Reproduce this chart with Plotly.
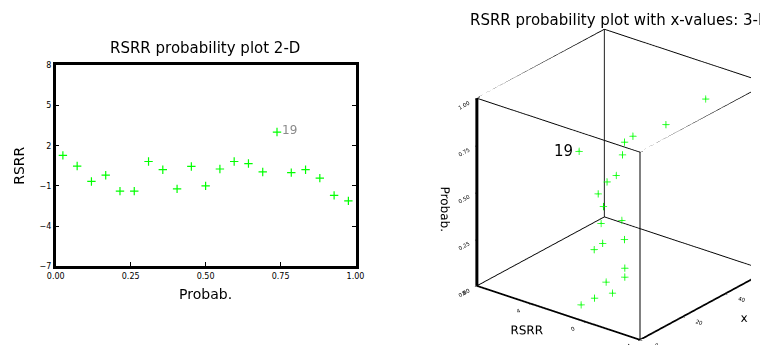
import plotly.graph_objects as go

# ---- data ----
probab = [(i - 0.5) / 21 for i in range(1, 22)]
rsrr = [1.28, 0.48, -0.67, -0.20, -1.39, -1.39, 0.82, 0.21, -1.22, 0.45, -1.00,
        0.26, 0.82, 0.67, 0.04, 3.02, -0.01, 0.21, -0.42, -1.71, -2.12]
xvals = [6.0, 7.2, 8.3, 8.3, 9.5, 9.5, 9.2, 9.3, 10.4, 10.1, 10.6,
         10.0, 11.1, 14.3, 14.6, 16.2, 17.2, 19.6, 19.5, 26.8, 42.9]
label_idx = 15
label_text = "19"

x2d_range = [0, 1]
y2d_range = [-7, 8]
x3_range = [0, 60]
r3_range = [-4, 8]
p3_range = [0, 1]

GREEN = "#00ff00"
FONT = "DejaVu Sans"

fig = go.Figure()

fig.add_trace(go.Scatter(
    x=probab, y=rsrr, mode="markers",
    marker=dict(symbol="cross-thin", size=6, line=dict(color=GREEN, width=1.2)),
    xaxis="x", yaxis="y", showlegend=False, hoverinfo="skip"))

# ---- 3D ----
X0, X1 = x3_range
Y0, Y1 = r3_range
Z0, Z1 = p3_range
thin_edges = [
    ((X0, Y1, Z1), (X1, Y1, Z1)), ((X0, Y0, Z1), (X1, Y0, Z1)), ((X0, Y1, Z0), (X1, Y1, Z0)),
    ((X1, Y0, Z0), (X1, Y1, Z0)), ((X0, Y0, Z1), (X0, Y1, Z1)), ((X1, Y0, Z1), (X1, Y1, Z1)),
    ((X0, Y0, Z0), (X0, Y0, Z1)), ((X1, Y0, Z0), (X1, Y0, Z1)), ((X1, Y1, Z0), (X1, Y1, Z1)),
]
for a, b in thin_edges:
    fig.add_trace(go.Scatter3d(x=[a[0], b[0]], y=[a[1], b[1]], z=[a[2], b[2]], mode="lines",
                               line=dict(color="black", width=1.8),
                               showlegend=False, hoverinfo="skip", scene="scene"))
# axis edges: RSRR (front-left) -> x (front-right) as one path, Probab. (left vertical) separately
fig.add_trace(go.Scatter3d(x=[X0, X0, X1], y=[Y1, Y0, Y0], z=[Z0, Z0, Z0],
                           mode="lines", line=dict(color="black", width=3.5),
                           showlegend=False, hoverinfo="skip", scene="scene"))
fig.add_trace(go.Scatter3d(x=[X0, X0], y=[Y1, Y1], z=[Z1, Z0],
                           mode="lines", line=dict(color="black", width=6),
                           showlegend=False, hoverinfo="skip", scene="scene"))

fig.add_trace(go.Scatter3d(
    x=xvals, y=rsrr, z=probab, mode="markers",
    marker=dict(symbol="cross", size=4, color=GREEN),
    showlegend=False, hoverinfo="skip", scene="scene"))

ax3 = dict(showbackground=False, showgrid=False, zeroline=False,
           showline=False, ticks="outside", tickcolor="black", ticklen=3,
           tickfont=dict(family=FONT, size=8, color="black"),
           showspikes=False)

d = (-0.714, -0.558, 0.423)
dist = 1.56
cen = (-0.131, 0.168, 0.0)
asp = 1.29

fig.update_layout(
    width=760, height=350,
    paper_bgcolor="white", plot_bgcolor="white",
    margin=dict(l=0, r=0, t=0, b=0),
    font=dict(family=FONT, color="black"),
    xaxis=dict(domain=[0.063, 0.467], range=x2d_range, tickvals=[0, 0.25, 0.5, 0.75, 1.0],
               tickformat=".2f", ticks="inside", ticklen=4, tickcolor="black",
               showline=True, linecolor="black", linewidth=2.5, mirror=True,
               showgrid=False, zeroline=False,
               tickfont=dict(family=FONT, size=8, color="black"),
               title=dict(text="Probab.", font=dict(family=FONT, size=14, color="black"), standoff=10)),
    yaxis=dict(domain=[0.231, 0.82], range=y2d_range, tickvals=[-7, -4, -1, 2, 5, 8],
               ticks="inside", ticklen=4, tickcolor="black",
               showline=True, linecolor="black", linewidth=2.5, mirror="ticks",
               showgrid=False, zeroline=False,
               tickfont=dict(family=FONT, size=8, color="black"),
               title=dict(text="RSRR", font=dict(family=FONT, size=14, color="black"), standoff=12)),
    scene=dict(
        domain=dict(x=[0.56, 1.0], y=[0.0, 0.94]),
        xaxis=dict(ax3, range=x3_range, tickvals=[0, 20, 40], title=dict(text="x", font=dict(family=FONT, size=12))),
        yaxis=dict(ax3, range=r3_range, tickvals=[-4, 0, 4, 8], title=dict(text="RSRR", font=dict(family=FONT, size=12))),
        zaxis=dict(ax3, range=p3_range, tickvals=[0, 0.25, 0.5, 0.75, 1.0], tickformat=".2f",
                   title=dict(text="Probab.", font=dict(family=FONT, size=12))),
        aspectmode="manual", aspectratio=dict(x=asp, y=asp, z=asp),
        camera=dict(projection=dict(type="orthographic"),
                    center=dict(x=cen[0], y=cen[1], z=cen[2]),
                    eye=dict(x=cen[0] + dist * d[0], y=cen[1] + dist * d[1], z=cen[2] + dist * d[2]),
                    up=dict(x=0, y=0, z=1)),
        annotations=[dict(x=xvals[label_idx], y=rsrr[label_idx], z=probab[label_idx],
                          text=label_text, showarrow=False, xanchor="right", xshift=-4,
                          font=dict(family=FONT, size=15, color="black"))],
    ),
)
fig.add_annotation(x=probab[label_idx], y=rsrr[label_idx], xref="x", yref="y",
                   text=label_text, showarrow=False, xanchor="left", xshift=3,
                   yshift=2, font=dict(family=FONT, size=12, color="#8a8a8a"))
fig.add_annotation(text="RSRR probability plot 2-D", x=201 / 760, y=1 - 45 / 350,
                   xref="paper", yref="paper", xanchor="center", yanchor="middle",
                   showarrow=False, font=dict(family=FONT, size=15, color="black"))
fig.add_annotation(text="RSRR probability plot with x-values: 3-D", x=470 / 760, y=1 - 16 / 350,
                   xref="paper", yref="paper", xanchor="left", yanchor="middle",
                   showarrow=False, font=dict(family=FONT, size=15, color="black"))

fig.write_html("out.html")
